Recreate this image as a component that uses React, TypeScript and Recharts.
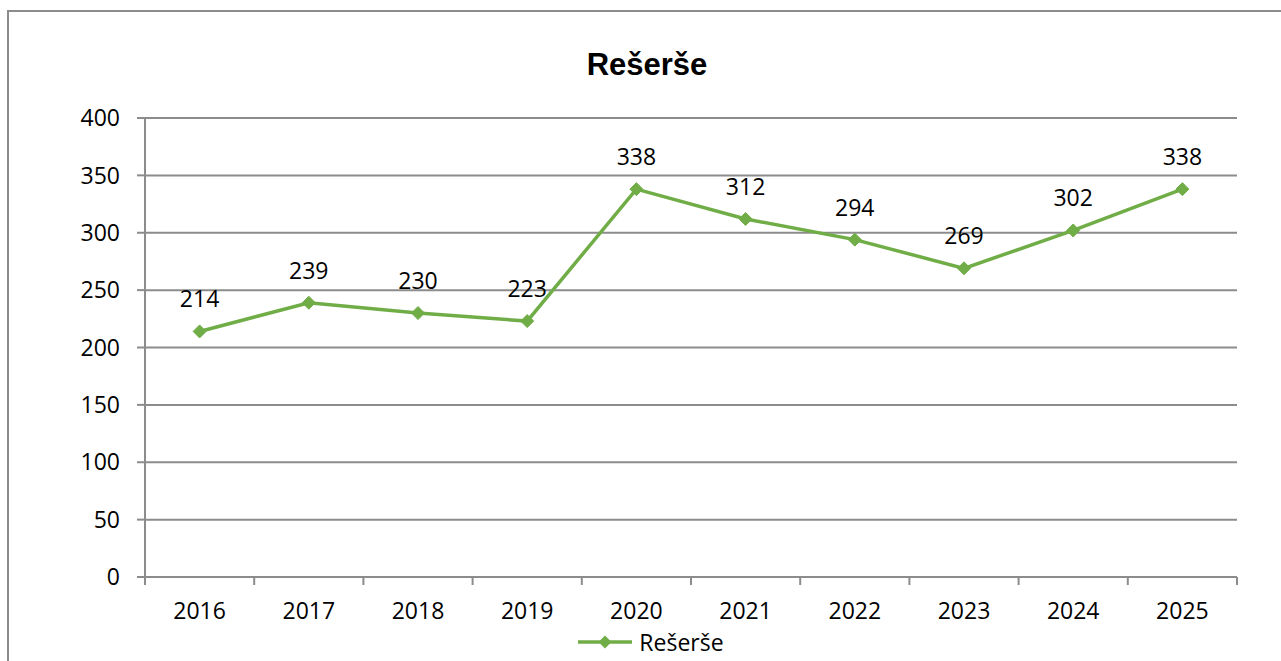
import React from "react";
import {
  LineChart,
  Line,
  XAxis,
  YAxis,
  CartesianGrid,
  Legend,
  LabelList,
} from "recharts";

// Rešerše per year
const years = ["2016", "2017", "2018", "2019", "2020", "2021", "2022", "2023", "2024", "2025"];
const reserse = [214, 239, 230, 223, 338, 312, 294, 269, 302, 338];
const yTicks = [0, 50, 100, 150, 200, 250, 300, 350, 400];

const SERIES_NAME = "Rešerše";
const GREEN = "#70ad47";
const GRID = "#8c8c8c";
const FONT = "'Open Sans', sans-serif";

const W = 1281;
const H = 661;
const PLOT_LEFT = 145;
const PLOT_RIGHT = 1237;
const BAND = (PLOT_RIGHT - PLOT_LEFT) / years.length;

const data = years.map((year, i) => ({ year, value: reserse[i] }));

function Diamond(props: any) {
  const { cx, cy } = props;
  if (cx == null || cy == null) return null;
  const r = 6.5;
  return (
    <path
      d={`M${cx},${cy - r}L${cx + r},${cy}L${cx},${cy + r}L${cx - r},${cy}Z`}
      fill={GREEN}
      stroke={GREEN}
    />
  );
}

function XTick(props: any) {
  const { x, y, payload, index } = props;
  const left = x - BAND / 2;
  const right = x + BAND / 2;
  const last = index === years.length - 1;
  return (
    <g>
      <line x1={left} y1={y} x2={left} y2={y + 8} stroke={GRID} strokeWidth={2} />
      {last && <line x1={right} y1={y} x2={right} y2={y + 8} stroke={GRID} strokeWidth={2} />}
      <text x={x} y={y + 42} textAnchor="middle" fill="#000" fontSize={23} fontFamily={FONT}>
        {payload.value}
      </text>
    </g>
  );
}

function PointLabel(props: any) {
  const { x, y, value } = props;
  return (
    <text x={x} y={y - 24} textAnchor="middle" fill="#000" fontSize={23} fontFamily={FONT}>
      {value}
    </text>
  );
}

function LegendContent() {
  return (
    <div
      style={{
        height: 36,
        display: "flex",
        alignItems: "center",
        justifyContent: "center",
        fontFamily: FONT,
        fontSize: 23,
        color: "#000",
        paddingRight: 10,
      }}
    >
      <svg width={56} height={16} style={{ marginRight: 5 }}>
        <line x1={0} y1={8} x2={54} y2={8} stroke={GREEN} strokeWidth={3.5} />
        <path d="M27,1.5L33.5,8L27,14.5L20.5,8Z" fill={GREEN} />
      </svg>
      <span>{SERIES_NAME}</span>
    </div>
  );
}

export default function App() {
  return (
    <div
      style={{
        position: "fixed",
        left: 0,
        top: 0,
        width: W,
        height: H,
        overflow: "hidden",
        background: "#fff",
      }}
    >
      <div
        style={{
          position: "absolute",
          left: 7,
          top: 10,
          width: 1320,
          height: 700,
          border: `2px solid ${GRID}`,
          boxSizing: "border-box",
        }}
      />
      <div
        style={{
          position: "absolute",
          left: 0,
          top: 49,
          width: 1294,
          textAlign: "center",
          fontFamily: "'Liberation Sans', Arial, sans-serif",
          fontWeight: "bold",
          fontSize: 31,
          lineHeight: "31px",
          color: "#000",
        }}
      >
        Rešerše
      </div>
      <div style={{ position: "absolute", left: 0, top: 0 }}>
        <LineChart
          width={W}
          height={H}
          data={data}
          margin={{ top: 118, right: W - PLOT_RIGHT, bottom: 1, left: PLOT_LEFT - 70 }}
        >
          <CartesianGrid vertical={false} stroke={GRID} strokeWidth={2} />
          <XAxis
            dataKey="year"
            height={47}
            tickLine={false}
            tickSize={0}
            tickMargin={0}
            padding={{ left: BAND / 2, right: BAND / 2 }}
            axisLine={{ stroke: GRID, strokeWidth: 2 }}
            tick={<XTick />}
            interval={0}
          />
          <YAxis
            width={70}
            domain={[0, 400]}
            ticks={yTicks}
            tickSize={8}
            tickMargin={17}
            tickLine={{ stroke: GRID, strokeWidth: 2 }}
            axisLine={{ stroke: GRID, strokeWidth: 2 }}
            tick={{ fill: "#000", fontSize: 23, fontFamily: FONT }}
            interval={0}
          />
          <Legend verticalAlign="bottom" height={36} content={<LegendContent />} />
          <Line
            type="linear"
            dataKey="value"
            name={SERIES_NAME}
            stroke={GREEN}
            strokeWidth={3.5}
            dot={<Diamond />}
            activeDot={false}
            isAnimationActive={false}
          >
            <LabelList dataKey="value" content={<PointLabel />} />
          </Line>
        </LineChart>
      </div>
    </div>
  );
}
